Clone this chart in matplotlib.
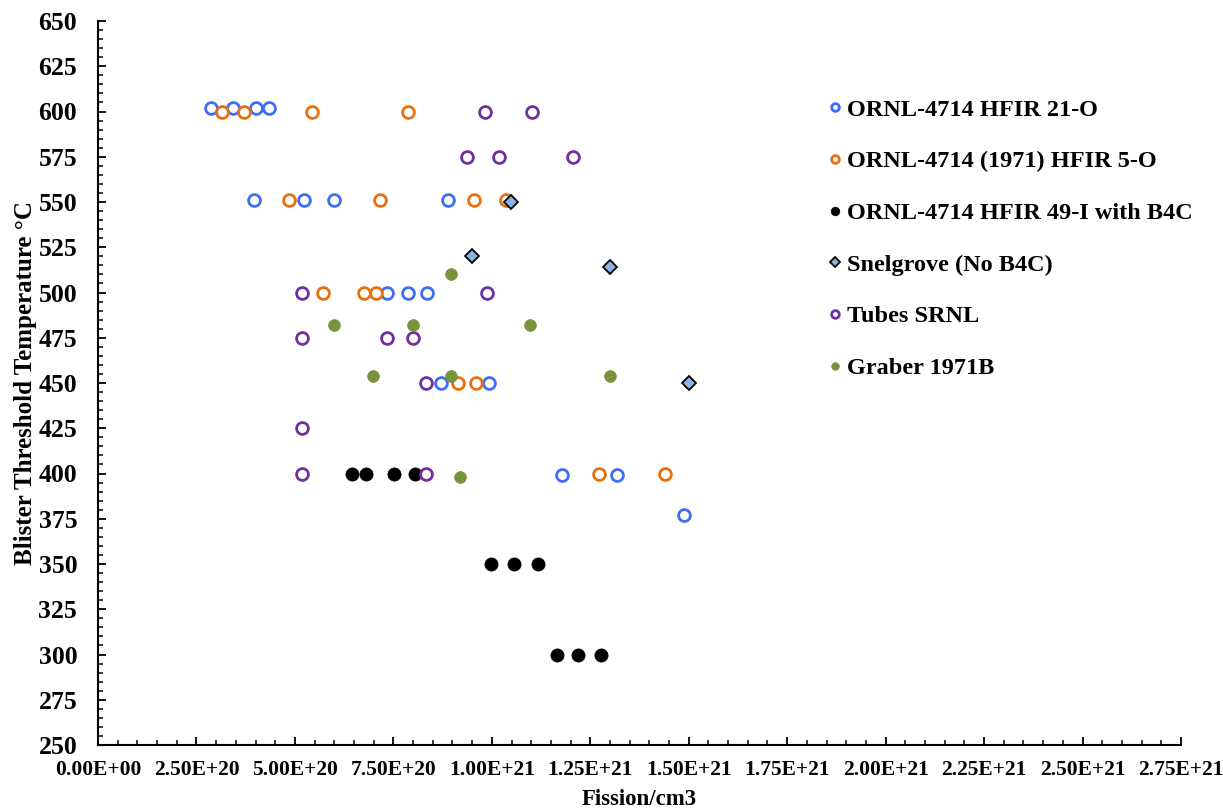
import matplotlib
matplotlib.use('Agg')
import matplotlib.pyplot as plt
from matplotlib.ticker import MultipleLocator, FuncFormatter

plt.rcParams['font.family'] = ['Liberation Serif', 'DejaVu Serif']
plt.rcParams['font.weight'] = 'bold'

# fission density in units of 1E20 /cm3, temperature in degC
hfir21_x = [2.86, 3.44, 4.01, 4.35, 3.95, 5.22, 6.00, 8.90, 7.35, 7.88, 8.35,
            8.71, 9.93, 11.79, 13.18, 14.87]
hfir21_y = [602, 602, 602, 602, 551, 551, 551, 551, 500, 500, 500,
            450, 450, 399, 399, 377]

hfir5_x = [3.14, 3.71, 5.44, 7.88, 4.84, 7.15, 9.54, 10.37, 5.72, 6.76, 7.06,
           9.13, 9.60, 12.72, 14.41]
hfir5_y = [600, 600, 600, 600, 551, 551, 551, 551, 500, 500, 500,
           450, 450, 400, 400]

hfir49_x = [6.46, 6.81, 7.52, 8.06, 9.98, 10.57, 11.16, 11.65, 12.18, 12.77]
hfir49_y = [400, 400, 400, 400, 350, 350, 350, 300, 300, 300]

snel_x = [10.49, 9.50, 12.99, 15.01]
snel_y = [550, 520, 514, 450]

srnl_x = [9.82, 11.03, 9.38, 10.18, 12.06, 5.18, 9.88, 5.18, 7.34, 8.01,
          8.33, 5.18, 5.18, 8.33]
srnl_y = [600, 600, 575, 575, 575, 500, 500, 475, 475, 475,
          450, 425, 400, 400]

graber_x = [8.97, 5.98, 7.99, 10.98, 6.99, 8.97, 12.99, 9.20]
graber_y = [510, 482, 482, 482, 454, 454, 454, 398]

fig = plt.figure(figsize=(12.23, 8.11), dpi=100)
ax = fig.add_axes([98 / 1223, 1 - 745 / 811, (1181 - 98) / 1223, (745 - 21) / 811])

def sx(v):
    return [a * 1e20 for a in v]

ax.plot(sx(hfir21_x), hfir21_y, 'o', ls='none', ms=8.5, mfc='white', mec='#3d6ef5', mew=2.0,
        label='ORNL-4714 HFIR 21-O')
ax.plot(sx(hfir5_x), hfir5_y, 'o', ls='none', ms=8.5, mfc='white', mec='#e8700f', mew=2.0,
        label='ORNL-4714 (1971) HFIR 5-O')
ax.plot(sx(hfir49_x), hfir49_y, 'o', ls='none', ms=9.5, mfc='black', mec='black', mew=0.5,
        label='ORNL-4714 HFIR 49-I with B4C')
ax.plot(sx(snel_x), snel_y, 'D', ls='none', ms=7.5, mfc='#8db3e2', mec='black', mew=1.3,
        label='Snelgrove (No B4C)')
ax.plot(sx(srnl_x), srnl_y, 'o', ls='none', ms=8.5, mfc='white', mec='#7030a0', mew=2.0,
        label='Tubes SRNL')
ax.plot(sx(graber_x), graber_y, 'o', ls='none', ms=8.5, mfc='#77933c', mec='#77933c', mew=0.5,
        label='Graber 1971B')

ax.set_xlim(0, 2.75e21)
ax.set_ylim(250, 650)
ax.xaxis.set_major_locator(MultipleLocator(2.5e20))
ax.xaxis.set_minor_locator(MultipleLocator(5e19))
ax.yaxis.set_major_locator(MultipleLocator(25))
ax.yaxis.set_minor_locator(MultipleLocator(5))
ax.xaxis.set_major_formatter(FuncFormatter(lambda v, p: '%.2E' % v))

for s in ['top', 'right']:
    ax.spines[s].set_visible(False)
for s in ['left', 'bottom']:
    ax.spines[s].set_linewidth(1.5)

ax.tick_params(axis='both', which='major', direction='in', length=6, width=1.3)
ax.tick_params(axis='both', which='minor', direction='in', length=3.5, width=1.1)
ax.tick_params(axis='x', labelsize=15.5, pad=11)
ax.tick_params(axis='y', labelsize=18.5, pad=15)

ax.set_xlabel('Fission/cm3', fontsize=16.5, fontweight='bold', labelpad=6)
ax.set_ylabel('Blister Threshold Temperature \u00b0C', fontsize=18, fontweight='bold', labelpad=1)

fig.legend(loc='upper left', bbox_to_anchor=(818 / 1223, 1 - 89 / 811), frameon=False,
           fontsize=17.5, markerscale=0.65, handlelength=0.6, handletextpad=0.2,
           labelspacing=1.22, borderaxespad=0)

fig.savefig('out.png', dpi=100)
